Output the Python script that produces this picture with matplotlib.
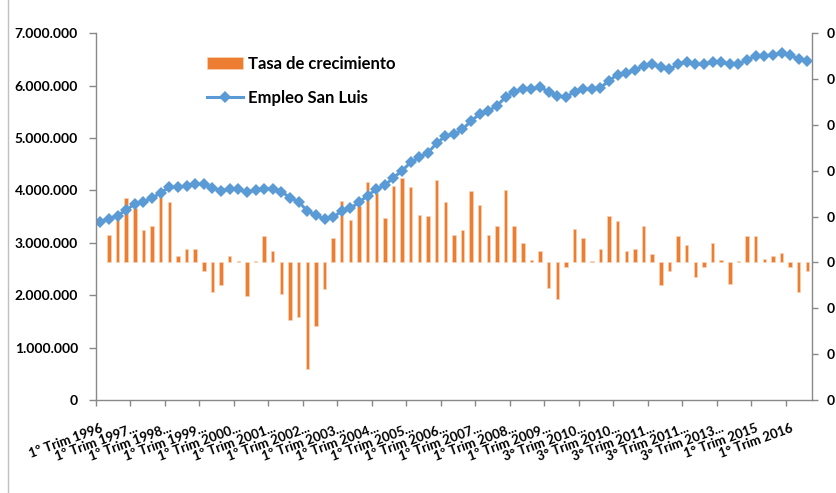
import matplotlib
matplotlib.use("Agg")
import matplotlib.pyplot as plt
from matplotlib.ticker import FuncFormatter, MultipleLocator, FixedLocator
from matplotlib.lines import Line2D
import numpy as np

plt.rcParams['font.family'] = ['Lato', 'DejaVu Sans']

# empleo San Luis (miles de personas), 1º trim 1996 .. 3º trim 2016
empleo_miles = [
    3404, 3462, 3519, 3627, 3742, 3786, 3850, 3958, 4060, 4060,
    4085, 4124, 4124, 4053, 3996, 4028, 4020, 3971, 4003, 4034,
    4034, 3977, 3862, 3786, 3608, 3526, 3455, 3488, 3608, 3660,
    3774, 3900, 4022, 4099, 4244, 4378, 4538, 4633, 4721, 4900,
    5035, 5072, 5168, 5326, 5460, 5517, 5619, 5779, 5886, 5937,
    5937, 5970, 5886, 5804, 5779, 5886, 5932, 5932, 5962, 6096,
    6211, 6240, 6300, 6376, 6415, 6351, 6313, 6415, 6459, 6408,
    6408, 6453, 6453, 6408, 6408, 6491, 6573, 6567, 6592, 6618,
    6586, 6504, 6478,
]

# tasa de crecimiento trimestral
tasa = [
    np.nan, 0.0122, 0.0184, 0.0281, 0.0238, 0.0140, 0.0158, 0.0288, 0.0264, 0.0030,
    0.0061, 0.0061, -0.0038, -0.0129, -0.0099, 0.0030, 0.0005, -0.0146, 0.0005, 0.0114,
    0.0048, -0.0136, -0.0251, -0.0240, -0.0465, -0.0277, -0.0114, 0.0109, 0.0270, 0.0184,
    0.0245, 0.0353, 0.0303, 0.0196, 0.0332, 0.0367, 0.0330, 0.0207, 0.0201, 0.0361,
    0.0264, 0.0122, 0.0140, 0.0312, 0.0251, 0.0122, 0.0158, 0.0317, 0.0158, 0.0084,
    0.0012, 0.0048, -0.0110, -0.0161, -0.0020, 0.0146, 0.0109, 0.0005, 0.0061, 0.0201,
    0.0183, 0.0048, 0.0061, 0.0158, 0.0035, -0.0099, -0.0038, 0.0116, 0.0078, -0.0062,
    -0.0019, 0.0084, 0.0012, -0.0093, 0.0005, 0.0116, 0.0116, 0.0017, 0.0030, 0.0040,
    -0.0019, -0.0129, -0.0038,
]

tick_labels = [
    "1º Trim 1996", "1º Trim 1997...", "1º Trim 1998...", "1º Trim 1999...",
    "1º Trim 2000...", "1º Trim 2001...", "1º Trim 2002...", "1º Trim 2003...",
    "1º Trim 2004...", "1º Trim 2005...", "1º Trim 2006...", "1º Trim 2007...",
    "1º Trim 2008...", "1º Trim 2009...", "3° Trim 2010...", "3° Trim 2010...",
    "3° Trim 2011...", "3° Trim 2011...", "3° Trim 2013...", "1° Trim 2015",
    "1° Trim 2016",
]

empleo = np.array(empleo_miles) * 1000
x = np.arange(len(empleo))

W, H = 836, 493
fig = plt.figure(figsize=(W / 100, H / 100), dpi=100)
ax = fig.add_axes([96 / W, (H - 400) / H, (811.7 - 96) / W, (400 - 33.3) / H])
axr = ax.twinx()

gris = '#898989'
naranja = '#ED7D31'
azul = '#5B9BD5'

bars = axr.bar(x, tasa, width=0.4, color=naranja, edgecolor='#F9D3B8', linewidth=0.5,
               label='Tasa de crecimiento')
line, = ax.plot(x, empleo, color=azul, lw=2.2, marker='D', markersize=6.5,
                markeredgewidth=0, label='Empleo San Luis')

ax.set_zorder(axr.get_zorder() + 1)
ax.patch.set_visible(False)

ax.set_xlim(-0.5, len(x) - 0.5)
ax.set_ylim(0, 7000000)
ax.yaxis.set_major_locator(MultipleLocator(1000000))
ax.yaxis.set_major_formatter(FuncFormatter(lambda v, p: f"{int(v):,}".replace(",", ".")))
axr.set_ylim(-0.06, 0.10)
axr.yaxis.set_major_locator(MultipleLocator(0.02))
axr.yaxis.set_major_formatter(FuncFormatter(lambda v, p: "%d" % round(v)))

# marcas entre categorías cada 4 trimestres, etiquetas en la categoría
ax.xaxis.set_major_locator(FixedLocator(np.arange(-0.5, len(x) - 1, 4)))
ax.xaxis.set_major_formatter(FuncFormatter(lambda v, p: ""))
ax.set_xticks(np.arange(0, len(x), 4), minor=True)
ax.set_xticklabels(tick_labels, minor=True, rotation=20, ha='right', va='top',
                   rotation_mode='anchor', fontsize=9.5, fontweight='bold')
ax.tick_params(axis='x', which='minor', length=0, pad=16)
ax.tick_params(axis='x', which='major', length=4, color=gris, width=1)

for a in (ax, axr):
    for s in a.spines.values():
        s.set_color(gris)
        s.set_linewidth(1)
    a.spines['top'].set_visible(False)
ax.spines['right'].set_visible(False)
axr.spines['left'].set_visible(False)
axr.spines['bottom'].set_visible(False)

ax.tick_params(axis='y', length=5, color=gris, width=1, pad=8, labelsize=10)
axr.tick_params(axis='y', length=4, color=gris, width=1, pad=7, labelsize=10)
for lab in ax.get_yticklabels() + axr.get_yticklabels():
    lab.set_fontweight('bold')

leg = ax.legend([bars, line], ['Tasa de crecimiento', 'Empleo San Luis'],
                loc='upper left', bbox_to_anchor=(207 / W, 1 - 56 / H),
                bbox_transform=fig.transFigure, frameon=False, borderpad=0,
                borderaxespad=0, handlelength=2.15, handletextpad=0.3,
                labelspacing=1.05, prop={'size': 12, 'weight': 'bold'})

# borde del área del gráfico
fig.add_artist(Line2D([8.3 / W, 8.3 / W], [0, 1], color='#BFBFBF', lw=1))

fig.savefig("out.png", dpi=100)
